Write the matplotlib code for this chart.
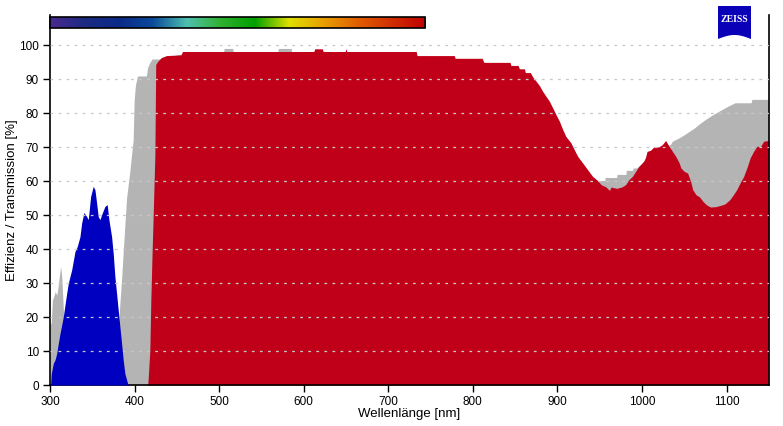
import numpy as np
import matplotlib
matplotlib.use("Agg")
import matplotlib.pyplot as plt
from matplotlib.colors import LinearSegmentedColormap
from matplotlib.patches import Rectangle, Polygon

plt.rcParams['font.family'] = ['Liberation Sans', 'DejaVu Sans']
plt.rcParams['lines.scale_dashes'] = False

# transmission (gray)
wl_gray = [300, 301.5, 302.8, 305, 306, 308, 309, 311, 312.6, 313.8, 315, 316,
           320, 340, 360, 375, 381.4, 382.6, 384.6, 386.5, 388.5, 390.5, 394.4,
           396.5, 398.3, 399.5, 401.1, 403.5, 414, 415.3, 418, 420.8, 430, 437,
           456, 505, 506, 516, 517, 569, 570, 585, 586, 733, 734, 860, 900, 940,
           947.6, 956, 956.5, 970, 970.5, 981, 981.5, 989, 989.5, 993, 1000, 1010,
           1020, 1030, 1033.6, 1036, 1044, 1050, 1056, 1062, 1068, 1074, 1080, 1086,
           1093, 1101, 1110, 1129, 1130, 1150]
tr_gray = [17.5, 18.5, 25, 26.5, 27.5, 26.5, 28, 32, 35, 32, 26, 21,
           20, 22, 22, 18, 19.2, 24, 31, 39, 47, 55, 63,
           68, 72, 84, 88.5, 91, 91, 93.4, 95, 96, 96, 96.5,
           97.5, 97.8, 99.1, 99.1, 97.8, 97.8, 99.1, 99.1, 97.8, 97.5, 96.5, 91, 77, 61,
           60.2, 60.2, 61.1, 61.1, 62, 62, 63.2, 63.2, 63.9, 63.9, 65, 67,
           69, 70.3, 70.8, 71.8, 72.8, 73.7, 74.7, 75.7, 76.9, 78, 79, 79.9,
           80.9, 82, 83.1, 83.1, 84.1, 84.1]

# filter 1 (red)
wl_red = [415, 415.6, 418, 419.2, 420.8, 422, 424, 425, 427.7, 431.6, 437.7, 455,
          456.6, 612, 613, 622, 623, 649, 650, 651, 733, 734, 778, 779, 811, 813,
          844, 845, 853.5, 855, 861, 862, 868, 870.6, 874.6, 878.6, 882.5, 886.5,
          890.4, 894.4, 898.3, 902.3, 906.3, 910, 916, 919.9, 923.9, 929.8, 935.7,
          941.7, 947.6, 951.6, 957.5, 961.5, 963.5, 970, 976, 980.7, 984.6, 988.6,
          992.5, 996.4, 1002, 1004, 1006, 1010, 1014, 1020, 1024, 1028, 1032, 1036,
          1040, 1044, 1046, 1050, 1054, 1056, 1058, 1060, 1064, 1068, 1072, 1076,
          1081, 1087, 1093, 1098, 1104, 1108, 1112, 1116, 1120, 1124, 1128, 1132,
          1136, 1140, 1144, 1150]
tr_red = [0, 0, 10, 25, 40, 50, 68, 94.4, 95.4, 96.4, 97, 97.2,
          98.2, 98.2, 99, 99, 98.2, 98.2, 99, 98.2, 98.2, 97, 97, 96.2, 96.2, 95,
          95, 94.1, 94.1, 93.1, 93.1, 92, 92, 90.8, 89.5, 88.2, 86.5, 85,
          83.6, 81.6, 79.6, 77.7, 75.2, 73.2, 71.3, 69.3, 67.3, 65.4, 63.4,
          61.4, 60.2, 59, 58.3, 57.3, 58.3, 57.9, 58.3, 59, 60.5, 61.4,
          62.9, 64.4, 65.9, 66.9, 68.8, 69.1, 70.1, 70.1, 70.8, 72, 70.3, 68.8,
          67.3, 65.4, 63.9, 62.9, 62.4, 61, 59.5, 57.5, 56, 55.4, 54.1, 53.1,
          52.4, 52.5, 52.9, 53.3, 54.6, 56, 57.5, 59.5, 61.3, 63.9, 66.9, 68.8,
          70.3, 70.2, 71.8, 72]

# filter 2 (blue)
wl_blue = [300, 300.8, 301.5, 303.9, 305.9, 307.9, 309.8, 311.8, 313.8, 315.7,
           317.7, 319.7, 321.6, 325.6, 329.5, 332.2, 335.4, 337.4, 340.1, 343.3,
           345.2, 348, 351.1, 353.1, 355.1, 357, 359, 361.7, 364.9, 367.6, 369.6,
           372.8, 374.7, 376.7, 378.7, 380.6, 382.6, 384.6, 386.5, 388.5, 391.7, 393]
tr_blue = [0, 0.5, 3.4, 6.4, 7.4, 9.3, 12.3, 15.2, 17.7, 20.1,
           23.6, 27, 30, 33.9, 39.3, 40.8, 43.7, 47.7, 50.8, 49.6,
           48.7, 55.5, 58.5, 57.5, 53.6, 49.6, 48.7, 50.6, 52.6, 53.1, 48.7,
           43.7, 38.8, 31.9, 27, 22.1, 17.2, 12.3, 7.4, 3.4, 0.5, 0]

# spectrum bar
spec_colors = ['#4a2a90', '#1c2a82', '#0a2a88', '#0a4a9a', '#50c0b0', '#30b030',
               '#00a000', '#e0e000', '#e8a000', '#e06000', '#d03000', '#c00000']
spec_start, spec_end = 300, 744

xticks = list(range(300, 1101, 100))
yticks = list(range(0, 101, 10))

fig = plt.figure(figsize=(7.83, 4.26), dpi=100)
ax = fig.add_axes([0.0639, 0.0962, 0.918, 0.869])

ax.fill_between(wl_gray, tr_gray, 0, color='#b4b4b4', lw=0, zorder=1)
ax.fill_between(wl_red, tr_red, 0, color='#c00018', lw=0, zorder=2)
ax.fill_between(wl_blue, tr_blue, 0, color='#0000c0', lw=0, zorder=3)

for yv in yticks[1:]:
    ax.axhline(yv, color='#c8c8c8', lw=0.9, dashes=(2, 3.8), zorder=4)

cmap = LinearSegmentedColormap.from_list('spec', spec_colors)
grad = np.linspace(0, 1, 256)[None, :]
ax.imshow(grad, cmap=cmap, aspect='auto', extent=[spec_start, spec_end, 105.2, 108.3],
          zorder=5, clip_on=False)
ax.add_patch(Rectangle((spec_start, 105.2), spec_end - spec_start, 3.1, fill=False,
                       ec='black', lw=1.2, zorder=6, clip_on=False))

ax.set_xlim(300, 1150)
ax.set_ylim(0, 109)
ax.set_xticks(xticks)
ax.set_yticks(yticks)
ax.spines['top'].set_visible(False)
for s in ['left', 'right', 'bottom']:
    ax.spines[s].set_linewidth(1.2)
ax.tick_params(direction='out', length=5, width=1, labelsize=8.5, colors='black', pad=3)
ax.set_xlabel('Wellenlänge [nm]', fontsize=9.5)
ax.set_ylabel('Effizienz / Transmission [%]', fontsize=9.5)
ax.xaxis.set_label_coords(0.5, -0.062)
ax.yaxis.set_label_coords(-0.045, 0.5)

# ZEISS logo
lx0, lx1 = 718 / 783, 751 / 783
ly_top = 1 - 6 / 426
ly_bot = 1 - 39 / 426
arc_h = 4 / 426
t = np.linspace(0, 1, 40)
bottom = [(lx0 + (lx1 - lx0) * u, ly_bot + arc_h * np.sin(np.pi * u)) for u in t]
pts = [(lx0, ly_top), (lx1, ly_top)] + bottom[::-1]
fig.patches.append(Polygon(pts, closed=True, transform=fig.transFigure,
                           color='#0a00b8', lw=0))
fig.text((lx0 + lx1) / 2, 1 - 19.5 / 426, 'ZEISS', color='white', fontsize=7,
         fontweight='bold', family='Liberation Serif', ha='center', va='center')

fig.savefig('out.png', dpi=100)
